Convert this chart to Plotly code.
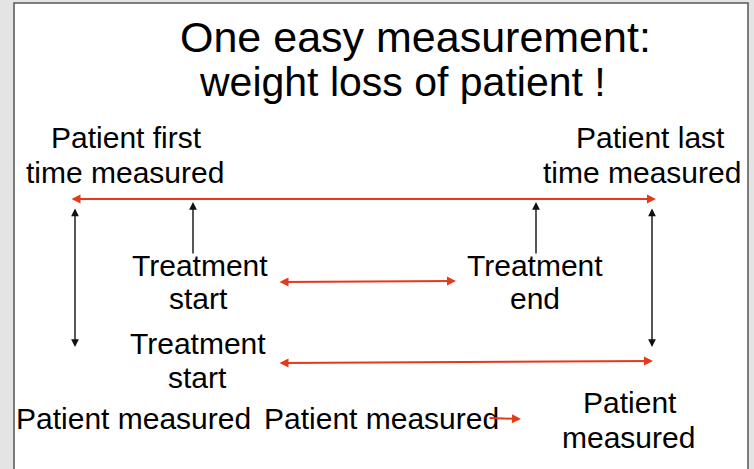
import plotly.graph_objects as go

# Text labels of the diagram
title_lines = ["One easy measurement:", "weight loss of patient !"]
labels = [
    "Patient first", "time measured",
    "Patient last", "time measured",
    "Treatment", "start",
    "Treatment", "end",
    "Treatment", "start",
    "Patient measured", "Patient measured",
    "Patient", "measured",
]
label_x = [126, 125, 650, 642, 200, 198, 535, 535, 198, 197, 133, 381, 630, 628]
label_y = [137, 172, 137, 172, 265, 298, 265, 298, 343, 377, 418, 418, 402, 437]
title_x = [415, 402]
title_y = [37, 82]
title_size = [43, 41]

# Arrows: (x0, y0, x1, y1, colour, width, sides)
arrows = [
    (70, 199, 656, 199, "#e5391c", 2, "end+start"),
    (75, 207, 75, 347, "#111111", 1.4, "end+start"),
    (193, 255, 193, 202, "#111111", 1.4, "end"),
    (536, 255, 536, 202, "#111111", 1.4, "end"),
    (652, 207, 652, 347, "#111111", 1.4, "end+start"),
    (278, 282, 456, 281, "#e5391c", 2, "end+start"),
    (278, 363, 653, 361, "#e5391c", 2, "end+start"),
    (488, 418, 521, 419, "#e5391c", 2, "end"),
]

FONT = "Liberation Sans, Arial, sans-serif"
fig = go.Figure()
ann = []
for t, x, y, s in zip(title_lines, title_x, title_y, title_size):
    ann.append(dict(x=x, y=y, text=t, showarrow=False, xref="x", yref="y",
                    font=dict(family=FONT, size=s, color="black"),
                    xanchor="center", yanchor="middle"))
for t, x, y in zip(labels, label_x, label_y):
    ann.append(dict(x=x, y=y, text=t, showarrow=False, xref="x", yref="y",
                    font=dict(family=FONT, size=30, color="black"),
                    xanchor="center", yanchor="middle"))
for x0, y0, x1, y1, c, w, side in arrows:
    ann.append(dict(x=x1, y=y1, ax=x0, ay=y0, xref="x", yref="y", axref="x", ayref="y",
                    text="", showarrow=True, arrowhead=2, arrowsize=1.1 if w < 2 else 0.9,
                    arrowwidth=w, arrowcolor=c, arrowside=side, standoff=0, startstandoff=0,
                    startarrowhead=2, startarrowsize=1.1 if w < 2 else 0.9))

shapes = [
    dict(type="rect", x0=14, y0=3, x1=748, y1=480, xref="x", yref="y",
         fillcolor="white", line=dict(color="#555555", width=1.5), layer="below"),
]

fig.update_layout(
    width=754, height=469,
    margin=dict(l=0, r=0, t=0, b=0),
    paper_bgcolor="#e4e4e4", plot_bgcolor="#e4e4e4",
    xaxis=dict(range=[0, 754], visible=False, fixedrange=True),
    yaxis=dict(range=[469, 0], visible=False, fixedrange=True),
    annotations=ann, shapes=shapes, showlegend=False,
)
fig.write_html("out.html", config={"displayModeBar": False},
               post_script="document.body.style.margin='0';document.body.style.overflow='hidden';")
